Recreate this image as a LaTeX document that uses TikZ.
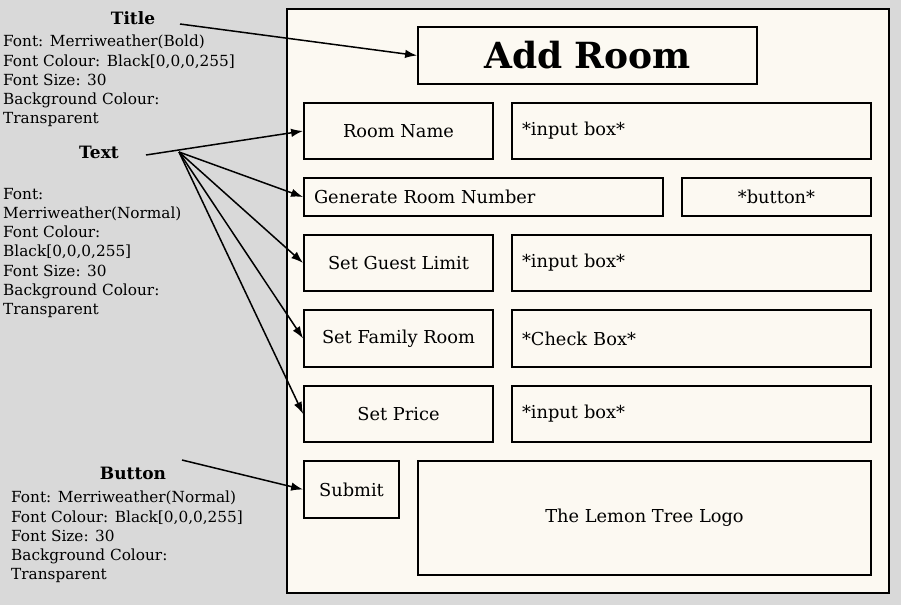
\documentclass[tikz,border=0pt]{standalone}
\usepackage{fontspec}
\setmainfont{DejaVu Serif}
\usetikzlibrary{arrows.meta}
\definecolor{bggray}{RGB}{217,217,217}
\definecolor{cream}{RGB}{252,249,242}
\tikzset{
  box/.style={draw,line width=1.8pt,fill=cream,inner sep=0pt,font=\fontsize{17.8}{20}\selectfont},
  field/.style={box,align=left,inner xsep=10pt},
  head/.style={font=\fontsize{17}{20}\selectfont\bfseries},
  note/.style={align=left,anchor=north west,inner sep=0pt,font=\fontsize{15.3}{19.2}\selectfont},
  arr/.style={-{Latex[length=12pt,width=8.5pt]},line width=1.5pt}
}
\begin{document}
\begin{tikzpicture}[x=1pt,y=-1pt]
  \fill[bggray] (0,0) rectangle (901,605);
  \useasboundingbox (0,0) rectangle (901,605);

  % mock-up screen
  \node[draw,line width=1.8pt,fill=cream,minimum width=602pt,minimum height=584pt] (panel) at (588,301) {};
  \node[box,minimum width=339pt,minimum height=57pt,font=\fontsize{36}{40}\selectfont\bfseries] (title) at (587.5,55.5) {Add Room};

  \node[box,minimum width=189pt,minimum height=56pt] (name) at (398.5,131) {Room Name};
  \node[field,text width=339pt,minimum height=56pt] (in1) at (691.5,131) {*input box*};
  \node[field,text width=339pt,minimum height=38pt] (gen) at (483.5,197) {Generate Room Number};
  \node[box,minimum width=189pt,minimum height=38pt] (btn) at (776.5,197) {*button*};
  \node[box,minimum width=189pt,minimum height=56pt] (guest) at (398.5,263) {Set Guest Limit};
  \node[field,text width=339pt,minimum height=56pt] (in2) at (691.5,263) {*input box*};
  \node[box,minimum width=189pt,minimum height=57pt] (family) at (398.5,338.5) {Set Family Room};
  \node[field,text width=339pt,minimum height=57pt] (check) at (691.5,338.5) {*Check Box*};
  \node[box,minimum width=189pt,minimum height=56pt] (price) at (398.5,414) {Set Price};
  \node[field,text width=339pt,minimum height=56pt] (in3) at (691.5,414) {*input box*};
  \node[box,minimum width=95pt,minimum height=57pt] (submit) at (351.5,489.5) {Submit};
  \node[box,minimum width=453pt,minimum height=114pt] (logo) at (644.5,518) {The Lemon Tree Logo};

  % notes on the left
  \node[head] (ttlhead) at (133,18) {Title};
  \node[note] (ttlnote) at (3,35) {Font: Merriweather(Bold)\\Font Colour: Black[0,0,0,255]\\Font Size: 30\\Background Colour:\\Transparent};
  \node[head] (txthead) at (99,152) {Text};
  \node[note] (txtnote) at (3,188) {Font:\\Merriweather(Normal)\\Font Colour:\\Black[0,0,0,255]\\Font Size: 30\\Background Colour:\\Transparent};
  \node[head] (btnhead) at (133,473) {Button};
  \node[note] (btnnote) at (11,491) {Font: Merriweather(Normal)\\Font Colour: Black[0,0,0,255]\\Font Size: 30\\Background Colour:\\Transparent};

  \coordinate (ttlsrc) at (180,24);
  \coordinate (txtsrc) at (146,155);
  \coordinate (txtfork) at (179,152);
  \coordinate (btnsrc) at (182,460);

  \draw[arr] (ttlsrc) -- (title.west);
  \draw[arr] (txtsrc) -- (name.west);
  \foreach \to in {gen,guest,family,price}
    \draw[arr] (txtfork) -- (\to.west);
  \draw[arr] (btnsrc) -- (submit.west);

\end{tikzpicture}
\end{document}
